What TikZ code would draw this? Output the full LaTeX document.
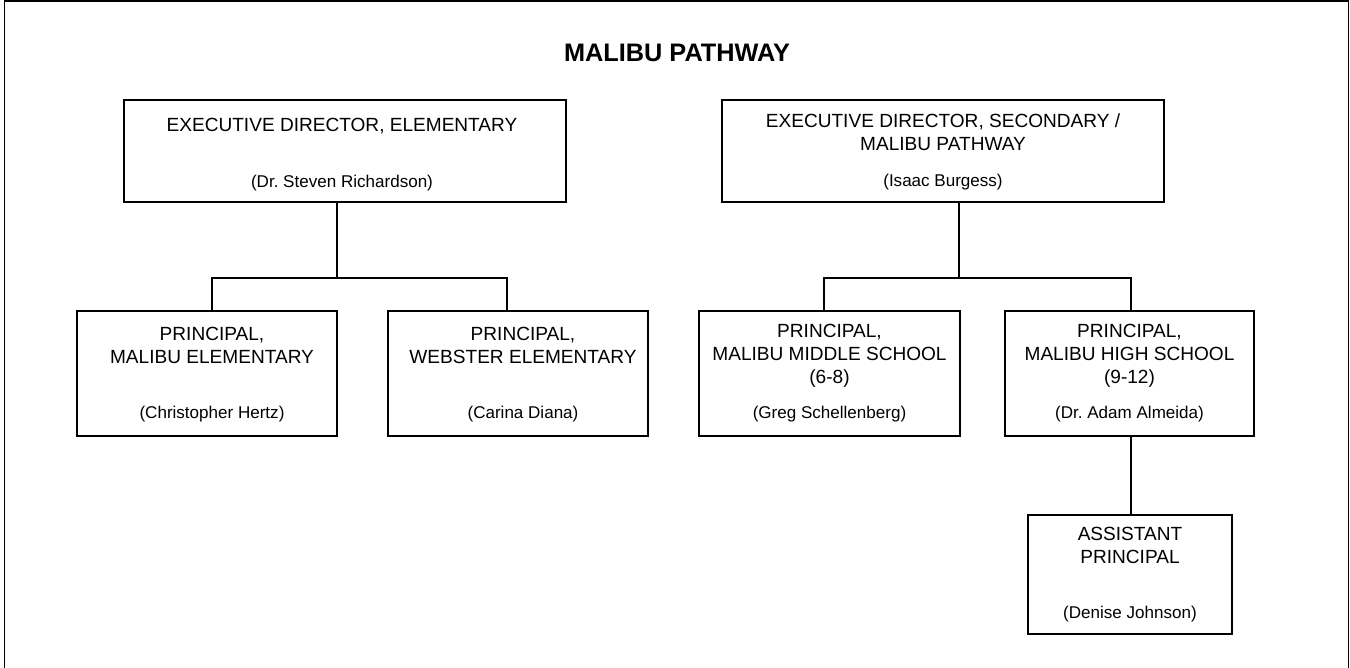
\documentclass[tikz,border=0pt]{standalone}
\usepackage{fontspec}
\setmainfont{Liberation Sans}
\frenchspacing
\begin{document}
\begin{tikzpicture}[
    unit/.style={draw, line width=0.8pt, minimum width=#1},
    role/.style={align=center, font=\fontsize{10.85}{13.1}\selectfont},
    person/.style={font=\fontsize{9.7}{12}\selectfont}
  ]
        \useasboundingbox (0,0) rectangle (27,-13.34);
        \draw[line width=1.1pt] (0.09,-13.6) |- (26.97,-0.02) -- (26.97,-13.6);

        \node[font=\fontsize{14.4}{17}\selectfont\bfseries] (title) at (13.54,-1.06) {MALIBU PATHWAY};

        % directors
        \node[unit=8.84cm, minimum height=2.04cm] (ee) at (6.9,-3.02) {};
        \node[unit=8.84cm, minimum height=2.04cm] (es) at (18.86,-3.02) {};
        \node[role] (eet) at (6.84,-2.52) {EXECUTIVE DIRECTOR, ELEMENTARY};
        \node[person] (een) at (6.84,-3.66) {(Dr. Steven Richardson)};
        \node[role] (est) at (18.86,-2.65) {EXECUTIVE DIRECTOR, SECONDARY /\\MALIBU PATHWAY};
        \node[person] (esn) at (18.86,-3.64) {(Isaac Burgess)};

        % principals
        \node[unit=5.2cm, minimum height=2.5cm] (pm) at (4.14,-7.47) {};
        \node[unit=5.2cm, minimum height=2.5cm] (pw) at (10.36,-7.47) {};
        \node[unit=5.22cm, minimum height=2.5cm] (pms) at (16.59,-7.47) {};
        \node[unit=4.98cm, minimum height=2.5cm] (phs) at (22.59,-7.47) {};
        \node[role] (pmt) at (4.24,-6.9) {PRINCIPAL,\\MALIBU ELEMENTARY};
        \node[person] (pmn) at (4.24,-8.28) {(Christopher Hertz)};
        \node[role] (pwt) at (10.46,-6.9) {PRINCIPAL,\\WEBSTER ELEMENTARY};
        \node[person] (pwn) at (10.46,-8.28) {(Carina Diana)};
        \node[role] (pmst) at (16.59,-7.12) {PRINCIPAL,\\MALIBU MIDDLE SCHOOL\\(6-8)};
        \node[person] (pmsn) at (16.59,-8.28) {(Greg Schellenberg)};
        \node[role] (phst) at (22.59,-7.12) {PRINCIPAL,\\MALIBU HIGH SCHOOL\\(9-12)};
        \node[person] (phsn) at (22.59,-8.28) {(Dr. Adam Almeida)};

        % assistant
        \node[unit=4.08cm, minimum height=2.38cm] (ap) at (22.6,-11.49) {};
        \node[role] (apt) at (22.6,-10.9) {ASSISTANT\\PRINCIPAL};
        \node[person] (apn) at (22.6,-12.28) {(Denise Johnson)};

        \coordinate (jl) at (6.74,-5.56);
        \coordinate (bl) at (4.24,-5.56);
        \coordinate (br) at (10.14,-5.56);
        \coordinate (jr) at (19.18,-5.56);
        \coordinate (cl) at (16.48,-5.56);
        \coordinate (cr) at (22.62,-5.56);

        \draw[line width=0.8pt] (ee.south -| jl) -- (jl);
        \draw[line width=0.8pt] (pm.north -| bl) |- (br) -- (pw.north -| br);
        \draw[line width=0.8pt] (es.south -| jr) -- (jr);
        \draw[line width=0.8pt] (pms.north -| cl) |- (cr) -- (phs.north -| cr);
        \draw[line width=0.8pt] (phs.south -| cr) -- (ap.north -| cr);
    \end{tikzpicture}
\end{document}
